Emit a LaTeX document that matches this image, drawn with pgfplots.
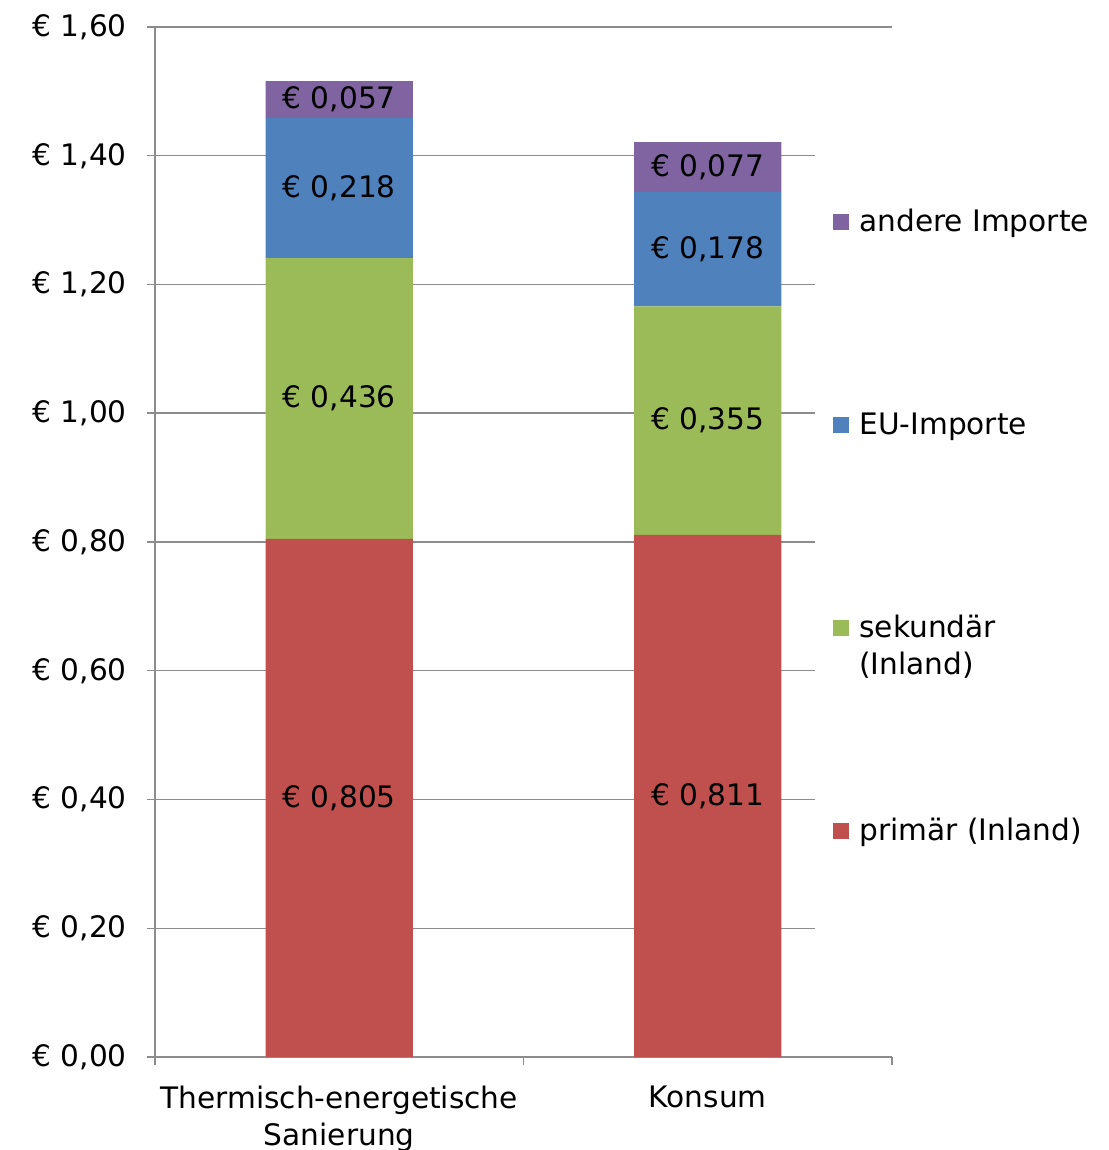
\documentclass[border=0pt]{standalone}
\usepackage{fontspec}
\setmainfont{DejaVu Sans}
\usepackage{pgfplots}
\pgfplotsset{compat=1.18}
\definecolor{cRed}{HTML}{C0504D}
\definecolor{cGreen}{HTML}{9BBB59}
\definecolor{cBlue}{HTML}{4F81BD}
\definecolor{cPurple}{HTML}{8064A2}
\definecolor{gridgray}{HTML}{8C8C8C}
\newcommand{\chartfont}{\fontsize{14.8pt}{18.5pt}\selectfont}
\begin{document}
\chartfont
\begin{tikzpicture}
\begin{axis}[
  /pgf/number format/assume math mode=true,
  scale only axis, width=368.5pt, height=515pt,
  xmin=-0.5, xmax=1.5, ymin=0, ymax=1.6,
  ybar stacked, bar width=0.4,
  axis x line*=bottom, axis y line*=left,
  axis line style={draw=gridgray, line width=0.75pt},
  ytick={0,0.2,0.4,0.6,0.8,1.0,1.2,1.4,1.6},
  ymajorgrids, major grid style={draw=gridgray, line width=0.75pt},
  tick style={draw=gridgray, line width=0.75pt},
  tick align=outside, major tick length=4pt,
  yticklabel={€ \pgfmathprintnumber[fixed,fixed zerofill,precision=2,use comma]{\tick}},
  yticklabel style={font=\chartfont, text=black, xshift=-5pt},
  xtick={-0.5,0.5,1.5}, xticklabels={},
  extra x ticks={0,1},
  extra x tick labels={{Thermisch-energetische\\Sanierung},Konsum},
  extra x tick style={major tick length=0pt, xticklabel style={align=center, font=\chartfont, text=black, yshift=-9.5pt}},
  point meta=explicit,
  nodes near coords={€ \pgfmathprintnumber[fixed,fixed zerofill,precision=3,use comma]{\pgfplotspointmeta}},
  every node near coord/.append style={font=\chartfont, text=black, anchor=center},
  reverse legend,
  legend image code/.code={\fill[#1] (0pt,-4pt) rectangle (8pt,4pt);},
  legend style={at={(0.8955,0.9097)}, anchor=north west, draw=none, fill=white,
    inner xsep=9pt, inner ysep=0pt, row sep=0pt, column sep=5pt,
    font=\chartfont,
    nodes={inner sep=0pt, text height=55.5pt, text depth=46pt}},
  legend cell align=left,
]
\addplot[fill=cRed, draw=none] coordinates {(0,0.805) [0.805] (1,0.811) [0.811]};
\addplot[fill=cGreen, draw=none] coordinates {(0,0.436) [0.436] (1,0.355) [0.355]};
\addplot[fill=cBlue, draw=none] coordinates {(0,0.218) [0.218] (1,0.178) [0.178]};
\addplot[fill=cPurple, draw=none] coordinates {(0,0.057) [0.057] (1,0.077) [0.077]};
\legend{primär (Inland), {\vtop{\hbox{sekundär}\hbox{(Inland)}}}, EU-Importe, andere Importe}
\end{axis}
\pgfresetboundingbox
\path[use as bounding box] (-77.5pt,-46.5pt) rectangle (476.5pt,528.5pt);
\end{tikzpicture}
\end{document}
